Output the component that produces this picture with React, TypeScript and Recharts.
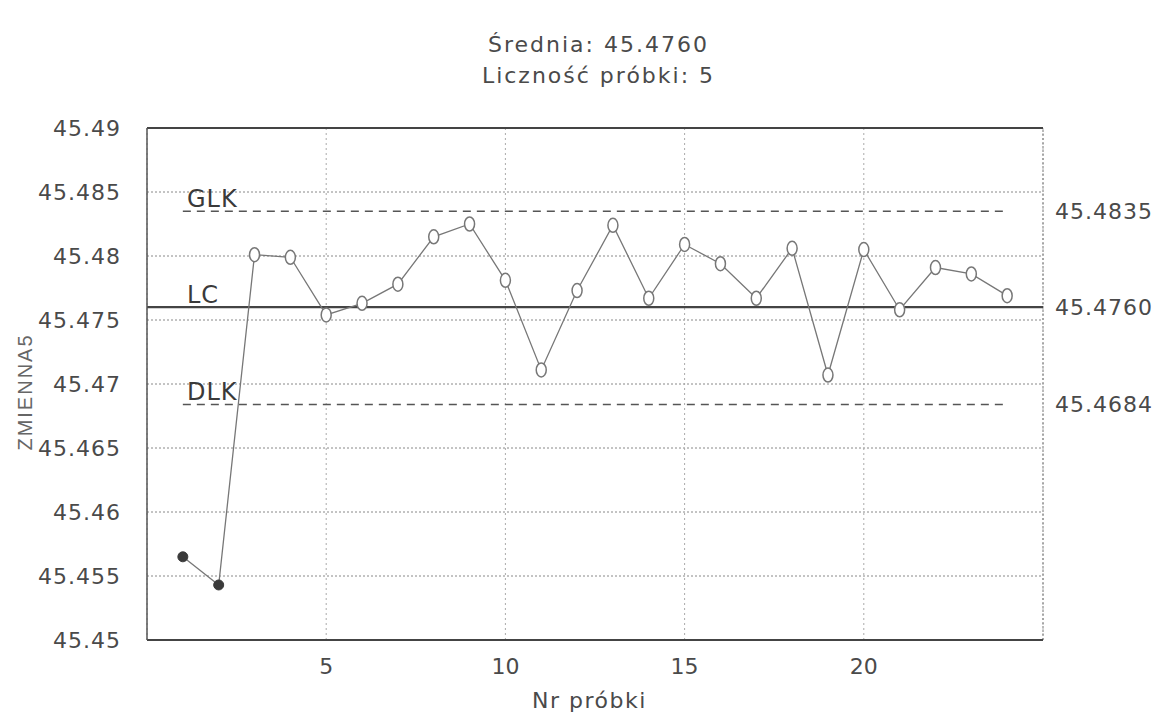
import React from 'react';
import { LineChart, Line, XAxis, YAxis, CartesianGrid, ReferenceLine } from 'recharts';

const samples = [1, 2, 3, 4, 5, 6, 7, 8, 9, 10, 11, 12, 13, 14, 15, 16, 17, 18, 19, 20, 21, 22, 23, 24];
const means = [45.4565, 45.4543, 45.4801, 45.4799, 45.4754, 45.4763, 45.4778, 45.4815, 45.4825, 45.4781, 45.4711, 45.4773,
  45.4824, 45.4767, 45.4809, 45.4794, 45.4767, 45.4806, 45.4707, 45.4805, 45.4758, 45.4791, 45.4786, 45.4769];
const yTicks = [45.45, 45.455, 45.46, 45.465, 45.47, 45.475, 45.48, 45.485, 45.49];
const xTicks = [5, 10, 15, 20];
const limits = [
  { name: 'GLK', value: 45.4835, label: '45.4835', dashed: true },
  { name: 'LC', value: 45.476, label: '45.4760', dashed: false },
  { name: 'DLK', value: 45.4684, label: '45.4684', dashed: true },
];
const titleLines = ['Średnia: 45.4760', 'Liczność próbki: 5'];
const xLabel = 'Nr próbki';
const yLabel = 'ZMIENNA5';

const data = samples.map((s, i) => ({ x: s, y: means[i] }));
const TXT = '#4a4a4a';
const FONT = '"DejaVu Sans", "Liberation Sans", sans-serif';

const fmt = (v: number) => String(Number(v.toFixed(3)));

const Dot = (props: any) => {
  const { cx, cy, index } = props;
  if (cx == null || cy == null) return null;
  if (index < 2) return <circle key={index} cx={cx} cy={cy} r={5} fill="#3a3a3a" stroke="#3a3a3a" />;
  return <ellipse key={index} cx={cx} cy={cy} rx={5} ry={7} fill="#fff" stroke="#777" strokeWidth={1.5} />;
};

const makeLabel = (name: string, value: string) => (props: any) => {
  const vb = props.viewBox || {};
  const x = vb.x ?? 0;
  const y = vb.y ?? 0;
  const w = vb.width ?? 0;
  return (
    <g>
      <text x={x + 40} y={y - 4} fill="#3a3a3a" fontSize={24} fontFamily={FONT} letterSpacing={1}>{name}</text>
      <text x={x + w + 12} y={y} dominantBaseline="central" fill={TXT} fontSize={22} fontFamily={FONT} letterSpacing={1}>{value}</text>
    </g>
  );
};

export default function App() {
  return (
    <div style={{ position: 'absolute', left: 0, top: 0, width: 1161, height: 727, background: '#fff', fontFamily: FONT }}>
      <div style={{ position: 'absolute', left: 0, width: 1161, top: 29, textAlign: 'center', paddingLeft: 36, boxSizing: 'border-box', fontSize: 22, letterSpacing: 2, color: TXT, lineHeight: '31px' }}>
        <div>{titleLines[0]}</div>
        <div>{titleLines[1]}</div>
      </div>
      <LineChart width={1161} height={727} data={data} margin={{ top: 128, right: 118, bottom: 57, left: 0 }}>
        <CartesianGrid horizontal={true} vertical={false} stroke="#888" strokeDasharray="2 2" />
        <CartesianGrid horizontal={false} vertical={true} stroke="#aaa" strokeDasharray="2 3" />
        <XAxis
          type="number"
          dataKey="x"
          domain={[0, 25]}
          ticks={xTicks}
          tickLine={false}
          tickSize={0}
          tickMargin={18}
          axisLine={{ stroke: '#444', strokeWidth: 2 }}
          tick={{ fill: TXT, fontSize: 22, fontFamily: FONT }}
          allowDataOverflow
        />
        <YAxis
          type="number"
          domain={[45.45, 45.49]}
          ticks={yTicks}
          tickFormatter={fmt}
          width={147}
          tickLine={false}
          tickSize={0}
          tickMargin={26}
          axisLine={{ stroke: '#555', strokeWidth: 1.5 }}
          tick={{ fill: TXT, fontSize: 22, fontFamily: FONT, letterSpacing: 1 }}
          allowDataOverflow
        />
        <ReferenceLine y={45.49} stroke="#444" strokeWidth={2} />
        <ReferenceLine x={25} stroke="#777" strokeDasharray="2 2" />
        {limits.map((l) =>
          l.dashed ? (
            <ReferenceLine
              key={l.name + 'seg'}
              segment={[{ x: 1, y: l.value }, { x: 24, y: l.value }]}
              stroke="#555"
              strokeWidth={1.6}
              strokeDasharray="8 6"
            />
          ) : (
            <ReferenceLine key={l.name + 'seg'} y={l.value} stroke="#444" strokeWidth={2.2} />
          )
        )}
        {limits.map((l) => (
          <ReferenceLine key={l.name + 'lab'} y={l.value} stroke="none" label={makeLabel(l.name, l.label)} />
        ))}
        <Line
          type="linear"
          dataKey="y"
          stroke="#777"
          strokeWidth={1.3}
          dot={Dot}
          activeDot={false}
          isAnimationActive={false}
        />
      </LineChart>
      <div style={{ position: 'absolute', left: 0, width: 1161, top: 688, textAlign: 'center', paddingLeft: 18, boxSizing: 'border-box', fontSize: 22, letterSpacing: 1.5, color: TXT }}>
        {xLabel}
      </div>
      <div style={{ position: 'absolute', left: 25, top: 392, transform: 'translate(-50%, -50%) rotate(-90deg)', fontSize: 20, color: '#666', letterSpacing: 2, whiteSpace: 'nowrap', fontFamily: '"Liberation Sans", sans-serif' }}>
        {yLabel}
      </div>
    </div>
  );
}
